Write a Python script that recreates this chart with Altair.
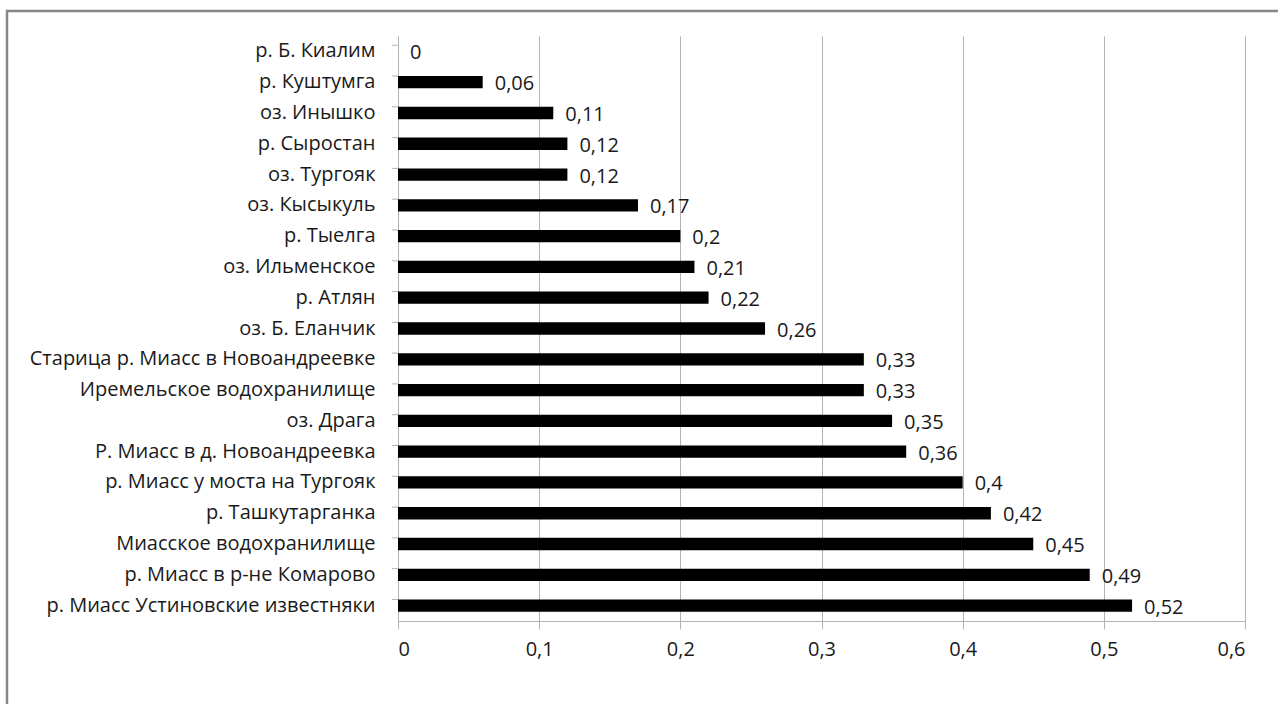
import altair as alt
import pandas as pd

sites = [
    "р. Б. Киалим",
    "р. Куштумга",
    "оз. Инышко",
    "р. Сыростан",
    "оз. Тургояк",
    "оз. Кысыкуль",
    "р. Тыелга",
    "оз. Ильменское",
    "р. Атлян",
    "оз. Б. Еланчик",
    "Старица р. Миасс в Новоандреевке",
    "Иремельское водохранилище",
    "оз. Драга",
    "Р. Миасс в д. Новоандреевка",
    "р. Миасс у моста на Тургояк",
    "р. Ташкутарганка",
    "Миасское водохранилище",
    "р. Миасс в р-не Комарово",
    "р. Миасс Устиновские известняки",
]
values = [0, 0.06, 0.11, 0.12, 0.12, 0.17, 0.2, 0.21, 0.22, 0.26,
          0.33, 0.33, 0.35, 0.36, 0.4, 0.42, 0.45, 0.49, 0.52]
x_ticks = [0, 0.1, 0.2, 0.3, 0.4, 0.5, 0.6]

df = pd.DataFrame({"site": sites, "value": values})
df["label"] = [str(v).replace(".", ",") for v in values]

FONT = "Open Sans"
FSIZE = 20
TEXT = "#1a1a1a"
GRID = "#b3b3b3"

x_scale = alt.Scale(domain=[0, 0.6], nice=False)
y_scale = alt.Scale(domain=sites, paddingInner=0.6, paddingOuter=0.3)

x_enc = alt.X(
    "value:Q",
    scale=x_scale,
    axis=alt.Axis(
        values=x_ticks,
        title=None,
        grid=True,
        gridColor=GRID,
        domainColor=GRID,
        tickColor=GRID,
        tickSize=8,
        format="~g",
        labelFont=FONT,
        labelFontSize=FSIZE,
        labelColor=TEXT,
        labelPadding=10,
        labelExpr="replace(datum.label, '.', ',')",
    ),
)
y_enc = alt.Y(
    "site:N",
    scale=y_scale,
    sort=sites,
    axis=alt.Axis(
        title=None,
        ticks=False,
        domainColor=GRID,
        labelFont=FONT,
        labelFontSize=FSIZE,
        labelColor=TEXT,
        labelPadding=23,
        labelLimit=400,
    ),
)

bars = alt.Chart(df).mark_bar(color="black", clip=False).encode(x=x_enc, y=y_enc)

labels = alt.Chart(df).mark_text(
    align="left", baseline="middle", dx=12, dy=2, font=FONT, fontSize=FSIZE, color=TEXT
).encode(x=alt.X("value:Q", scale=x_scale), y=alt.Y("site:N", scale=y_scale, sort=sites), text="label:N")

# short category-boundary ticks on the left axis
band_ticks = alt.Chart(df).mark_rule(color=GRID).encode(
    y=alt.Y("site:N", scale=y_scale, sort=sites, bandPosition=0),
    x=alt.value(-6),
    x2=alt.value(0),
)

# outer chart frame
frame = alt.Chart(pd.DataFrame({"k": [0]})).mark_rect(
    fill=None, stroke="#878787", strokeWidth=2.5, clip=False
).encode(
    x=alt.value(-391),
    x2=alt.value(900),
    y=alt.value(-25),
    y2=alt.value(700),
)

chart = (
    alt.layer(frame, bars, band_ticks, labels)
    .properties(
        width=847,
        height=585,
        autosize=alt.AutoSizeParams(type="none"),
        padding={"left": 398, "top": 36, "right": 33, "bottom": 83},
        background="white",
    )
    .configure_view(stroke=None)
)

chart.save("out.html", embed_options={"renderer": "svg", "actions": False})
